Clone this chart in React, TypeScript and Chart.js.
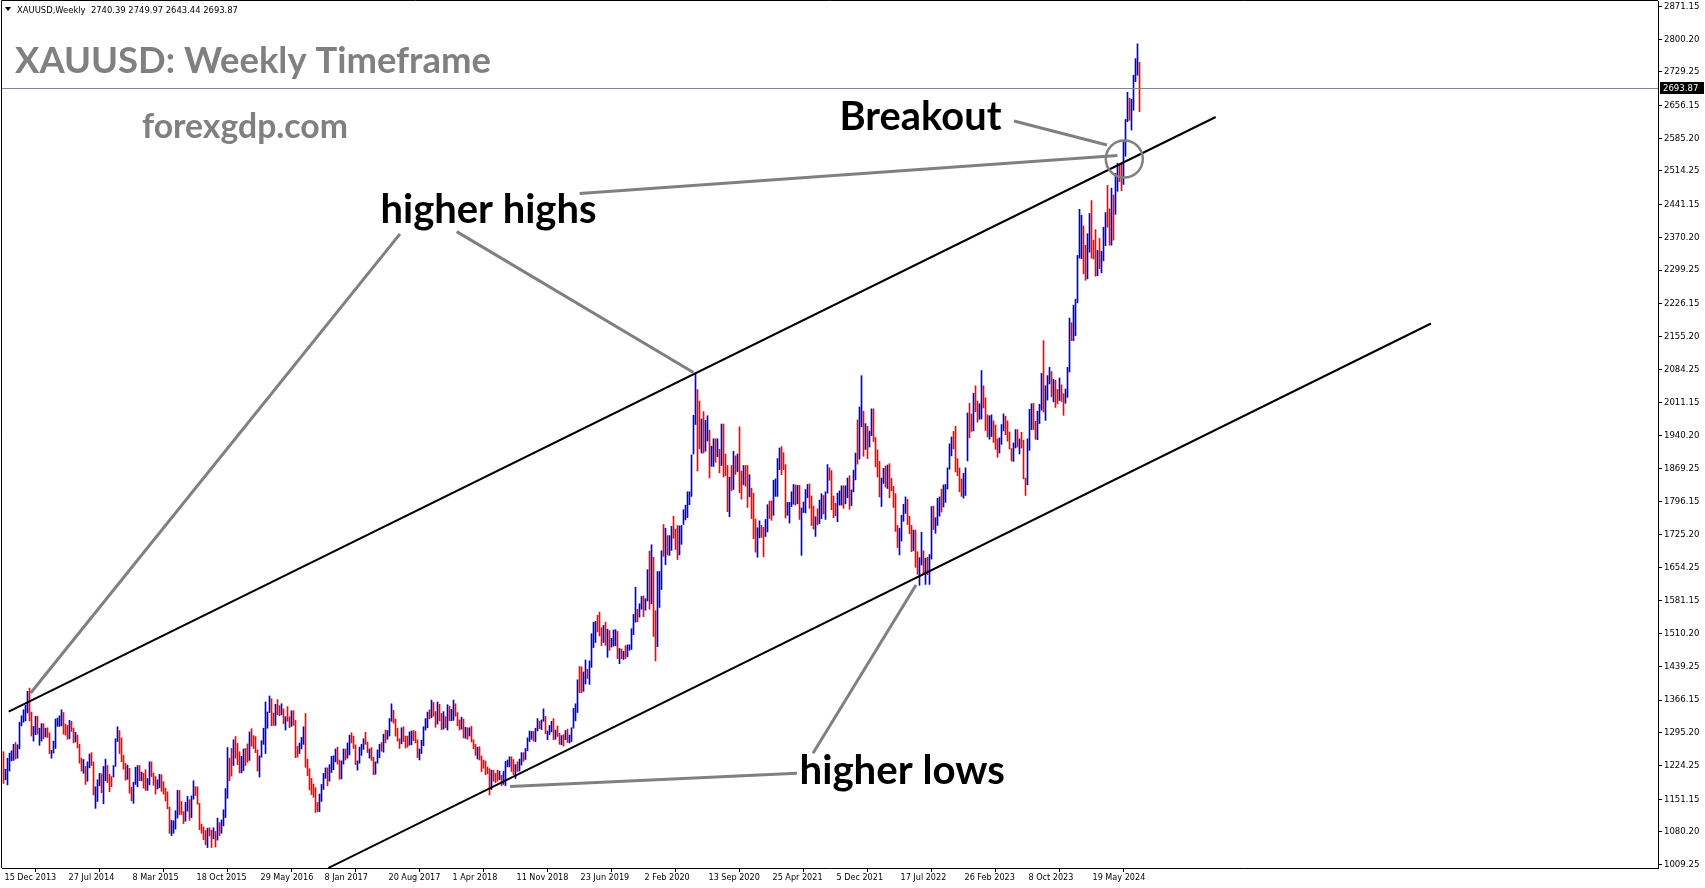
import React, { useEffect, useRef } from "react";
import { Chart, registerables } from "chart.js";

Chart.register(...registerables);

// Each weekly bar: [low, high, up (1 = close above open, 0 = below)]
type Wk = [number, number, number];

const w2013: Wk[] = [[1185,1254,0],[1193,1216,1],[1182,1240,1]];
const w2014: Wk[] = [
  [1212,1251,1],[1234,1256,1],[1235,1270,1],[1238,1274,0],
  [1240,1269,1],[1260,1318,1],[1310,1332,1],[1318,1345,1],
  [1321,1355,1],[1338,1385,1],[1321,1392,0],[1288,1340,0],[1277,1309,1],
  [1291,1331,1],[1292,1331,0],[1268,1305,1],[1277,1315,1],
  [1282,1315,0],[1286,1305,1],[1285,1306,0],[1250,1295,0],
  [1240,1257,1],[1251,1277,1],[1261,1325,1],[1309,1327,1],[1309,1332,1],
  [1310,1345,1],[1292,1339,0],[1290,1314,0],[1281,1311,0],
  [1282,1322,1],[1298,1320,0],[1273,1305,0],[1275,1296,1],[1262,1290,0],
  [1229,1270,0],[1212,1240,0],[1207,1237,1],[1183,1222,0],
  [1190,1232,1],[1219,1249,1],[1224,1252,0],[1160,1232,0],
  [1131,1178,1],[1146,1193,1],[1180,1207,1],[1165,1206,0],[1141,1222,1],
  [1191,1238,1],[1187,1224,0],[1167,1205,0],[1178,1200,0],
];
const w2015: Wk[] = [
  [1199,1224,1],[1222,1282,1],[1276,1308,1],[1250,1300,0],
  [1232,1284,0],[1216,1246,0],[1192,1229,0],[1194,1225,1],
  [1164,1218,0],[1147,1177,0],[1142,1188,1],[1183,1220,1],[1178,1224,1],
  [1191,1224,0],[1191,1210,1],[1175,1207,0],[1170,1215,0],
  [1170,1196,1],[1182,1232,1],[1200,1232,0],[1181,1208,0],[1162,1200,0],
  [1173,1193,1],[1176,1205,1],[1168,1204,0],[1162,1189,0],
  [1147,1175,0],[1130,1167,0],[1077,1134,0],[1072,1105,1],
  [1077,1104,1],[1086,1126,1],[1110,1170,1],[1117,1170,0],[1118,1146,0],
  [1098,1124,0],[1103,1144,1],[1125,1157,1],[1105,1150,0],
  [1111,1158,1],[1151,1191,1],[1159,1178,0],[1140,1178,0],
  [1085,1142,0],[1077,1097,0],[1063,1091,0],[1052,1083,0],[1046,1088,1],
  [1071,1089,0],[1046,1084,0],[1065,1089,1],[1047,1081,0],
];
const w2016: Wk[] = [
  [1062,1110,1],[1072,1100,0],[1077,1106,1],[1093,1128,1],[1111,1174,1],
  [1153,1263,1],[1191,1240,0],[1201,1261,0],[1224,1280,1],
  [1240,1287,0],[1226,1272,0],[1208,1254,0],[1208,1244,1],
  [1213,1260,1],[1224,1261,0],[1231,1271,0],[1235,1297,1],
  [1266,1304,0],[1261,1289,0],[1252,1287,0],[1212,1258,0],[1199,1245,1],
  [1242,1278,1],[1270,1305,1],[1250,1362,1],[1305,1340,1],
  [1339,1375,1],[1310,1369,0],[1311,1338,0],[1311,1357,1],[1334,1367,0],
  [1332,1354,0],[1334,1358,1],[1315,1347,0],[1301,1330,1],
  [1320,1352,0],[1306,1330,0],[1309,1343,1],[1311,1343,0],
  [1241,1322,0],[1242,1266,0],[1250,1273,1],[1260,1285,1],[1270,1308,1],
  [1220,1337,0],[1202,1238,0],[1171,1217,0],[1161,1196,0],
  [1155,1184,0],[1122,1176,0],[1124,1144,0],[1124,1162,1],
];
const w2017: Wk[] = [
  [1146,1183,1],[1172,1207,1],[1196,1219,1],[1180,1219,0],[1190,1226,1],
  [1209,1244,1],[1215,1245,1],[1232,1260,1],[1227,1264,0],
  [1194,1236,0],[1195,1234,1],[1227,1260,1],[1236,1260,0],
  [1240,1273,1],[1247,1290,1],[1273,1295,0],[1261,1288,0],[1226,1269,0],
  [1214,1234,1],[1229,1264,1],[1246,1270,1],[1259,1282,1],
  [1270,1296,0],[1252,1275,0],[1240,1260,1],[1235,1263,0],
  [1204,1242,0],[1205,1232,1],[1229,1258,1],[1241,1270,1],[1255,1274,0],
  [1253,1292,1],[1273,1301,0],[1281,1300,1],[1288,1326,1],
  [1320,1358,1],[1316,1344,0],[1288,1325,0],[1277,1305,0],
  [1261,1282,0],[1271,1306,1],[1276,1308,0],[1262,1288,0],[1264,1288,0],
  [1268,1297,1],[1269,1299,1],[1278,1300,0],[1273,1298,0],
  [1241,1280,0],[1236,1260,1],[1250,1279,1],[1267,1308,1],[1301,1326,1],
];
const w2018: Wk[] = [
  [1306,1340,1],[1325,1345,0],[1328,1366,1],[1331,1361,0],
  [1307,1341,0],[1314,1362,1],[1321,1357,0],[1302,1337,0],
  [1303,1341,1],[1306,1330,0],[1301,1356,1],[1321,1353,0],
  [1321,1346,1],[1322,1366,1],[1331,1358,0],[1310,1339,0],[1301,1323,0],
  [1303,1329,1],[1284,1325,0],[1283,1307,1],[1281,1306,0],
  [1288,1306,1],[1275,1309,0],[1260,1280,0],[1246,1270,0],
  [1238,1264,1],[1236,1265,0],[1211,1245,0],[1218,1236,0],[1204,1234,0],
  [1206,1221,0],[1160,1217,0],[1172,1214,1],[1190,1214,0],
  [1187,1207,0],[1190,1214,0],[1193,1212,1],[1180,1203,0],[1183,1212,1],
  [1180,1233,1],[1221,1236,1],[1221,1243,1],[1211,1243,0],
  [1204,1237,0],[1196,1226,1],[1211,1232,0],[1212,1238,1],
  [1225,1252,1],[1233,1252,0],[1237,1261,1],[1256,1284,1],[1276,1299,1],
];
const w2019: Wk[] = [
  [1281,1298,1],[1277,1298,0],[1276,1305,1],[1299,1326,1],
  [1304,1320,0],[1302,1323,1],[1320,1347,1],[1293,1331,0],
  [1280,1299,1],[1291,1311,1],[1297,1320,1],[1280,1326,0],[1281,1301,1],
  [1287,1310,0],[1270,1294,0],[1269,1289,1],[1266,1291,0],
  [1280,1300,1],[1274,1303,0],[1273,1290,1],[1276,1306,1],
  [1305,1348,1],[1321,1358,1],[1339,1410,1],[1382,1439,0],[1382,1438,0],
  [1385,1427,1],[1401,1453,1],[1413,1433,0],[1400,1451,1],
  [1437,1510,1],[1480,1535,1],[1491,1537,1],[1514,1550,0],
  [1505,1557,0],[1484,1523,0],[1491,1528,1],[1485,1535,0],[1459,1520,1],
  [1474,1517,0],[1481,1500,1],[1483,1518,1],[1484,1519,1],
  [1456,1515,0],[1445,1478,1],[1456,1477,0],[1454,1472,1],
  [1456,1484,0],[1460,1486,1],[1474,1486,1],[1476,1521,1],[1508,1552,1],
];
const w2020: Wk[] = [
  [1535,1611,1],[1536,1563,0],[1546,1575,1],[1563,1591,1],
  [1547,1592,0],[1561,1586,1],[1581,1649,1],[1563,1689,0],
  [1575,1703,1],[1504,1676,0],[1451,1560,0],[1482,1645,1],[1567,1645,1],
  [1606,1690,1],[1678,1747,0],[1660,1739,1],[1681,1723,0],
  [1680,1723,1],[1691,1743,1],[1717,1765,0],[1693,1737,0],[1671,1745,0],
  [1681,1744,1],[1704,1745,1],[1747,1779,1],[1757,1789,1],
  [1762,1818,1],[1790,1818,1],[1808,1898,1],[1900,1984,1],
  [1964,2075,1],[1863,2040,0],[1911,2015,0],[1902,1976,1],[1902,1992,0],
  [1906,1973,1],[1928,1983,1],[1848,1952,0],[1873,1917,1],
  [1873,1933,1],[1882,1933,0],[1894,1933,1],[1859,1910,0],
  [1875,1965,1],[1850,1965,0],[1853,1900,0],[1775,1875,0],[1764,1850,1],
  [1820,1875,0],[1823,1906,1],[1856,1896,0],[1862,1900,1],
];
const w2021: Wk[] = [
  [1816,1959,0],[1802,1863,0],[1833,1875,1],[1830,1875,0],[1784,1875,0],
  [1807,1855,1],[1760,1826,0],[1716,1815,0],[1687,1759,0],
  [1676,1740,1],[1718,1755,1],[1719,1745,0],[1677,1741,0],
  [1721,1758,1],[1731,1790,1],[1760,1798,0],[1756,1798,0],
  [1767,1843,1],[1808,1846,1],[1808,1890,1],[1866,1913,1],[1855,1916,0],
  [1866,1903,0],[1761,1877,0],[1767,1795,1],[1750,1795,1],
  [1786,1818,1],[1791,1834,1],[1789,1833,0],[1792,1832,1],
  [1758,1832,0],[1680,1783,1],[1773,1796,1],[1772,1823,1],[1805,1834,1],
  [1782,1835,0],[1745,1809,0],[1737,1787,0],[1721,1764,1],
  [1746,1781,0],[1749,1800,1],[1760,1814,1],[1770,1810,0],[1758,1818,1],
  [1815,1877,1],[1843,1870,0],[1779,1864,0],[1762,1809,0],
  [1766,1793,0],[1753,1815,1],[1789,1820,1],[1789,1831,1],
];
const w2022: Wk[] = [
  [1782,1831,0],[1792,1831,1],[1805,1848,1],[1780,1853,0],[1788,1822,1],
  [1818,1865,1],[1844,1902,1],[1878,1974,0],[1889,2002,1],
  [1959,2070,1],[1895,1993,0],[1910,1966,1],[1890,1960,0],
  [1915,1950,1],[1940,1998,1],[1927,1998,0],[1872,1936,0],
  [1850,1909,0],[1807,1884,0],[1786,1848,1],[1836,1869,1],[1828,1874,0],
  [1825,1876,1],[1805,1879,0],[1820,1847,0],[1784,1830,0],
  [1732,1814,0],[1697,1745,0],[1681,1739,1],[1711,1767,1],[1754,1791,1],
  [1771,1807,1],[1747,1802,0],[1727,1765,0],[1688,1745,0],
  [1690,1735,1],[1654,1735,0],[1639,1688,0],[1615,1675,1],
  [1659,1730,1],[1640,1690,0],[1617,1674,1],[1638,1676,0],[1617,1682,1],
  [1672,1786,1],[1736,1787,0],[1728,1762,1],[1745,1804,1],
  [1765,1807,1],[1774,1824,0],[1785,1833,1],[1795,1834,1],
];
const w2023: Wk[] = [
  [1824,1870,1],[1867,1922,1],[1896,1937,1],[1911,1949,0],[1861,1960,0],
  [1853,1890,0],[1818,1870,0],[1808,1846,0],[1804,1858,1],
  [1810,1870,1],[1885,1989,1],[1935,2010,0],[1949,1987,0],
  [1950,2032,1],[1992,2048,0],[1969,2015,0],[1975,2009,1],[1976,2081,1],
  [2000,2048,0],[1951,2022,0],[1937,1985,0],[1932,1983,1],
  [1938,1985,1],[1925,1972,0],[1910,1963,0],[1893,1933,0],
  [1902,1935,1],[1921,1964,1],[1950,1987,1],[1942,1982,0],[1928,1972,0],
  [1911,1948,0],[1885,1912,0],[1884,1924,1],[1913,1953,1],
  [1915,1953,0],[1900,1933,1],[1913,1947,0],[1846,1930,0],
  [1810,1848,0],[1833,1933,1],[1908,1997,1],[1953,2009,1],[1953,2010,0],
  [1932,1971,0],[1931,1993,1],[1966,2008,1],[1995,2075,1],
  [1991,2146,0],[1973,2048,1],[2017,2070,1],[2052,2088,1],[2024,2079,0],
];
const w2024: Wk[] = [
  [2013,2062,1],[2001,2060,0],[2009,2040,0],[2016,2065,1],
  [2014,2050,0],[1984,2031,0],[2010,2041,1],[2023,2088,1],
  [2078,2195,1],[2146,2185,0],[2146,2223,1],[2157,2236,1],[2228,2331,1],
  [2325,2431,1],[2324,2418,1],[2291,2395,0],[2277,2353,0],
  [2280,2378,1],[2338,2422,1],[2325,2450,0],[2323,2364,0],
  [2286,2387,0],[2287,2342,1],[2302,2368,0],[2293,2340,1],[2319,2392,1],
  [2352,2424,1],[2392,2483,0],[2353,2432,0],[2353,2477,1],
  [2364,2462,0],[2420,2509,1],[2470,2531,1],[2491,2528,0],
  [2471,2529,0],[2485,2581,1],[2546,2626,1],[2621,2685,1],[2624,2672,0],
  [2603,2670,1],[2646,2722,1],[2708,2758,1],[2722,2790,1],
  [2643,2750,0],
];

const weeks: Wk[] = [
  ...w2013, ...w2014, ...w2015, ...w2016, ...w2017, ...w2018,
  ...w2019, ...w2020, ...w2021, ...w2022, ...w2023, ...w2024,
];

const xTickIndex = [0, 32, 64, 96, 128, 160, 192, 224, 256, 288, 320, 352, 384, 416, 448, 480, 512, 544];
const xTickLabels = [
  "15 Dec 2013", "27 Jul 2014", "8 Mar 2015", "18 Oct 2015", "29 May 2016", "8 Jan 2017",
  "20 Aug 2017", "1 Apr 2018", "11 Nov 2018", "23 Jun 2019", "2 Feb 2020", "13 Sep 2020",
  "25 Apr 2021", "5 Dec 2021", "17 Jul 2022", "26 Feb 2023", "8 Oct 2023", "19 May 2024",
];
const yTickValues = [
  2871.15, 2800.2, 2729.25, 2656.15, 2585.2, 2514.25, 2441.15, 2370.2, 2299.25,
  2226.15, 2155.2, 2084.25, 2011.15, 1940.2, 1869.25, 1796.15, 1725.2, 1654.25,
  1581.15, 1510.2, 1439.25, 1366.15, 1295.2, 1224.25, 1151.15, 1080.2, 1009.25,
];
const lastOHLC = [2740.39, 2749.97, 2643.44, 2693.87];
const symbolName = "XAUUSD,Weekly";

// Trend lines and pointer lines in (bar index, price)
const upperTrend = [[2.6, 1341.0], [606.1, 2631.3]];
const lowerTrend = [[162.35, 1001.6], [713.75, 2183.2]];
const pointerLines = [
  [[198.25, 2377.8], [13.6, 1381.4]],
  [[226.6, 2382.6], [345.0, 2076.8]],
  [[288.05, 2465.3], [557.0, 2547.7]],
  [[396.75, 1207.3], [253.25, 1178.4]],
  [[404.75, 1250.5], [456.25, 1615.7]],
  [[505.25, 2622.6], [551.75, 2570.5]],
];
const breakoutCircle = [560.4, 2540.1];

const UP = "#0000dd";
const DOWN = "#ff0000";
const AXIS_FAMILY = "'DejaVu Sans Condensed', 'DejaVu Sans', sans-serif";
const BIG_FAMILY = "Lato, 'Open Sans', sans-serif";

const texts = [
  { text: "XAUUSD: Weekly Timeframe", x: 15, y: 73, w: 476, color: "#808080" },
  { text: "forexgdp.com", x: 142, y: 138, w: 206, color: "#808080" },
  { text: "Breakout", x: 839.5, y: 129.5, w: 162, color: "#000000" },
  { text: "higher highs", x: 380.5, y: 223, w: 216, color: "#000000" },
  { text: "higher lows", x: 799.5, y: 784, w: 205.5, color: "#000000" },
];

function fitFont(ctx: CanvasRenderingContext2D, text: string, width: number, weight: string, family: string) {
  ctx.font = `${weight} 100px ${family}`;
  const w = ctx.measureText(text).width;
  return `${weight} ${((100 * width) / w).toFixed(2)}px ${family}`;
}

const overlay = {
  id: "overlay",
  afterDatasetsDraw(chart: any) {
    const { ctx, chartArea: a } = chart;
    const xs = chart.scales.x;
    const ys = chart.scales.y;
    const px = (v: number) => xs.getPixelForValue(v);
    const py = (v: number) => ys.getPixelForValue(v);
    ctx.save();
    ctx.beginPath();
    ctx.rect(a.left, a.top, a.right - a.left, a.bottom - a.top);
    ctx.clip();

    // last price line
    const ly = Math.round(py(lastOHLC[3])) + 0.5;
    ctx.strokeStyle = "#7a8799";
    ctx.lineWidth = 1;
    ctx.beginPath();
    ctx.moveTo(a.left, ly);
    ctx.lineTo(a.right, ly);
    ctx.stroke();

    // channel lines
    ctx.strokeStyle = "#000000";
    ctx.lineWidth = 2;
    for (const t of [upperTrend, lowerTrend]) {
      ctx.beginPath();
      ctx.moveTo(px(t[0][0]), py(t[0][1]));
      ctx.lineTo(px(t[1][0]), py(t[1][1]));
      ctx.stroke();
    }

    // pointer lines
    ctx.strokeStyle = "#808080";
    ctx.lineWidth = 3;
    for (const l of pointerLines) {
      ctx.beginPath();
      ctx.moveTo(px(l[0][0]), py(l[0][1]));
      ctx.lineTo(px(l[1][0]), py(l[1][1]));
      ctx.stroke();
    }
    ctx.lineWidth = 2.5;
    ctx.beginPath();
    ctx.arc(px(breakoutCircle[0]), py(breakoutCircle[1]), 18.5, 0, Math.PI * 2);
    ctx.stroke();
    ctx.restore();
  },
  afterDraw(chart: any) {
    const { ctx, chartArea: a } = chart;
    const ys = chart.scales.y;
    ctx.save();
    // left and top frame
    ctx.strokeStyle = "#000000";
    ctx.lineWidth = 1;
    ctx.beginPath();
    ctx.moveTo(a.left - 0.5, a.bottom);
    ctx.lineTo(a.left - 0.5, a.top - 0.5);
    ctx.lineTo(a.right, a.top - 0.5);
    ctx.stroke();

    // header
    ctx.fillStyle = "#000000";
    ctx.beginPath();
    ctx.moveTo(5, 7);
    ctx.lineTo(11, 7);
    ctx.lineTo(8, 11);
    ctx.closePath();
    ctx.fill();
    const header = `${symbolName}  ${lastOHLC.map((v) => v.toFixed(2)).join(" ")}`;
    ctx.font = fitFont(ctx, header, 221, "normal", AXIS_FAMILY);
    ctx.textBaseline = "alphabetic";
    ctx.textAlign = "left";
    ctx.fillText(header, 17, 13);

    // big texts
    for (const t of texts) {
      ctx.font = fitFont(ctx, t.text, t.w, "bold", BIG_FAMILY);
      ctx.fillStyle = t.color;
      ctx.fillText(t.text, t.x, t.y);
    }

    // last price label
    const ly = Math.round(ys.getPixelForValue(lastOHLC[3]));
    ctx.fillStyle = "#000000";
    ctx.fillRect(a.right + 2, ly - 6, 44, 12);
    ctx.fillStyle = "#ffffff";
    ctx.font = `9.5px ${AXIS_FAMILY}`;
    ctx.textBaseline = "middle";
    ctx.fillText(lastOHLC[3].toFixed(2), a.right + 5, ly + 0.5);
    ctx.restore();
  },
};

export default function App() {
  const ref = useRef<HTMLCanvasElement | null>(null);
  useEffect(() => {
    document.body.style.margin = "0";
    const canvas = ref.current!;
    const chart = new Chart(canvas, {
      type: "bar",
      data: {
        datasets: [
          {
            data: weeks.map((w, i) => ({ x: i, y: [w[0], w[1]] })) as any,
            backgroundColor: weeks.map((w) => (w[2] ? UP : DOWN)),
            barThickness: 1,
            borderWidth: 0,
            borderSkipped: false,
            grouped: false,
          } as any,
        ],
      },
      options: {
        animation: false,
        responsive: false,
        devicePixelRatio: 1,
        events: [],
        layout: { padding: { top: 1, left: 2, right: 0, bottom: 0 } },
        plugins: { legend: { display: false }, tooltip: { enabled: false } },
        scales: {
          x: {
            type: "linear",
            position: "bottom",
            min: -0.75,
            max: 827.25,
            offset: false,
            afterBuildTicks: (s: any) => {
              s.ticks = xTickIndex.map((v) => ({ value: v }));
            },
            afterFit: (s: any) => {
              s.height = 20;
              s.paddingLeft = 0;
              s.paddingRight = 0;
            },
            ticks: {
              autoSkip: false,
              maxRotation: 0,
              minRotation: 0,
              align: "start",
              labelOffset: 1,
              padding: 0,
              color: "#000000",
              font: { family: AXIS_FAMILY, size: 9 },
              callback: (v: any) => xTickLabels[xTickIndex.indexOf(Number(v))] ?? "",
            },
            grid: { drawOnChartArea: false, drawTicks: true, tickLength: 4, color: "#000000" },
            border: { display: true, color: "#000000", width: 1 },
          },
          y: {
            type: "linear",
            position: "right",
            min: 1001.65,
            max: 2883.0,
            afterBuildTicks: (s: any) => {
              s.ticks = yTickValues.map((v) => ({ value: v }));
            },
            afterFit: (s: any) => {
              s.width = 47;
              s.paddingTop = 0;
              s.paddingBottom = 0;
            },
            ticks: {
              padding: 2,
              color: "#000000",
              font: { family: AXIS_FAMILY, size: 9.5 },
              callback: (v: any) => Number(v).toFixed(2),
            },
            grid: { drawOnChartArea: false, drawTicks: true, tickLength: 4, color: "#000000" },
            border: { display: true, color: "#000000", width: 1 },
          },
        },
      } as any,
      plugins: [overlay],
    });
    return () => chart.destroy();
  }, []);
  return (
    <div style={{ width: 1705, height: 888, background: "#ffffff" }}>
      <canvas ref={ref} width={1705} height={888} style={{ display: "block", width: 1705, height: 888 }} />
    </div>
  );
}
